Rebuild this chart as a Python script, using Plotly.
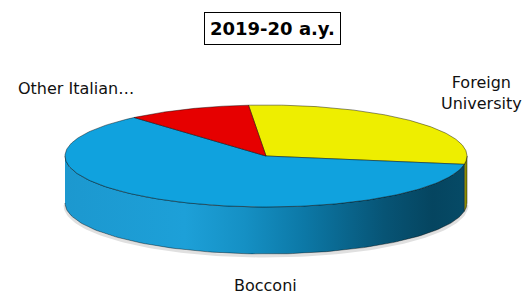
import numpy as np
import plotly.graph_objects as go

# ---- data ----
labels = ["Foreign University", "Bocconi", "Other Italian…"]
values = [29, 61, 10]
top_colors = ["#EEEE00", "#10A2DE", "#E60000"]
side_colors = ["#8C8C00", None, "#8A0000"]
title_text = "2019-20 a.y."

# ---- geometry (pixel-like coordinate space) ----
W, H = 523, 296
cx, cy = 266, 156
rx, ry = 201, 51
depth = 47
start_angle = 95.0

def ex(t):
    return cx + rx * np.cos(np.radians(t))

def ey(t):
    return cy - ry * np.sin(np.radians(t))

total = float(sum(values))
spans = []
a0 = start_angle
for v in values:
    a1 = a0 - v / total * 360.0
    spans.append((a1, a0))
    a0 = a1

fig = go.Figure()

# faint shadow below the pie
ts = np.linspace(-180, 0, 120)
fig.add_trace(go.Scatter(x=ex(ts), y=ey(ts) + depth + 2, mode="lines",
                         line=dict(color="rgba(0,0,0,0.12)", width=3),
                         hoverinfo="skip", showlegend=False))

def front_ranges(lo, hi):
    out = []
    for k in (-360, 0, 360):
        a, b = max(lo + k, -180), min(hi + k, 0)
        if b > a:
            out.append((a, b))
    return out

blue_grad = [[0.0, "#1C98CF"], [0.3, "#1DA0D8"], [0.45, "#1590C4"],
             [0.6, "#0C78A6"], [0.8, "#075475"], [0.92, "#054560"], [1.0, "#064A66"]]

for i, (lo, hi) in enumerate(spans):
    for a, b in front_ranges(lo, hi):
        t = np.linspace(a, b, 120)
        xs = np.concatenate([ex(t), ex(t[::-1])])
        ys = np.concatenate([ey(t), ey(t[::-1]) + depth])
        kw = {}
        if side_colors[i] is None:
            kw["fillgradient"] = dict(type="horizontal", colorscale=blue_grad)
        else:
            kw["fillcolor"] = side_colors[i]
        fig.add_trace(go.Scatter(x=xs, y=ys, mode="lines", fill="toself",
                                 line=dict(color="rgba(0,0,0,0.55)", width=0.8),
                                 hoverinfo="skip", showlegend=False, **kw))

for i, (lo, hi) in enumerate(spans):
    t = np.linspace(hi, lo, 200)
    xs = np.concatenate([[cx], ex(t), [cx]])
    ys = np.concatenate([[cy], ey(t), [cy]])
    fig.add_trace(go.Scatter(x=xs, y=ys, mode="lines", fill="toself",
                             fillcolor=top_colors[i],
                             line=dict(color="rgba(0,0,0,0.55)", width=0.8),
                             name=labels[i], hoverinfo="name", showlegend=False))

font = dict(family="DejaVu Sans, Lato, sans-serif", size=16, color="#111111")
annots = [
    dict(x=481, y=93, text="Foreign<br>University"),
    dict(x=265, y=285, text="Bocconi"),
    dict(x=76, y=88, text="Other Italian…"),
]
for a in annots:
    fig.add_annotation(x=a["x"], y=a["y"], text=a["text"], align="center",
                       showarrow=False, xref="x", yref="y", font=font)

fig.add_annotation(x=272, y=28, xref="x", yref="y", text="<b>" + title_text + "</b>",
                   showarrow=False, bordercolor="black", borderwidth=1,
                   borderpad=5, bgcolor="white",
                   font=dict(family="DejaVu Sans, Lato, sans-serif", size=18, color="black"))

fig.update_xaxes(range=[0, W], visible=False, fixedrange=True)
fig.update_yaxes(range=[H, 0], visible=False, fixedrange=True)
fig.update_layout(width=W, height=H,
                  margin=dict(l=0, r=0, t=0, b=0, pad=0, autoexpand=False),
                  paper_bgcolor="white", plot_bgcolor="white")
fig.write_html("out.html", config={"displayModeBar": False},
               post_script="document.body.style.margin='0';document.body.style.overflow='hidden';")
